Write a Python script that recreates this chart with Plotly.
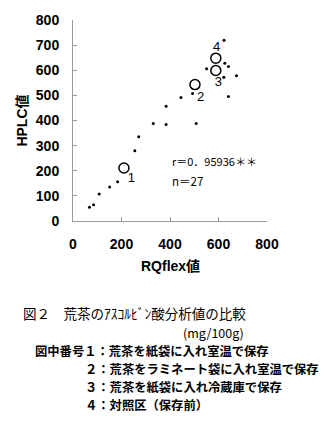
import plotly.graph_objects as go

# data
dot_x = [68, 85, 108, 151, 184, 255, 271, 331, 384, 384, 445, 493, 508, 551, 623, 626, 641, 622, 674, 641]
dot_y = [55, 65, 107, 135, 156, 280, 335, 388, 384, 457, 492, 507, 388, 606, 719, 628, 615, 572, 578, 496]
circ_x = [210, 503, 589, 589]
circ_y = [211, 543, 599, 648]
circ_labels = ["1", "2", "3", "4"]
label_x = [241, 526, 599, 592]
label_y = [169, 491, 550, 690]
x_ticks = [0, 200, 400, 600, 800]
y_ticks = [0, 100, 200, 300, 400, 500, 600, 700, 800]

W, H = 334, 431
L, R, T, B = 72.7, 267.3, 16, 220.7

def px(x):
    return (x - L) / (R - L)

def py(y):
    return (B - y) / (B - T)

fig = go.Figure()
fig.add_trace(go.Scatter(x=dot_x, y=dot_y, mode="markers",
                         marker=dict(size=3, color="black"), showlegend=False))
fig.add_trace(go.Scatter(x=circ_x, y=circ_y, mode="markers",
                         marker=dict(size=10, color="black", symbol="circle-open",
                                     line=dict(color="black", width=1.5)), showlegend=False))
fig.add_trace(go.Scatter(x=label_x, y=label_y, mode="text", text=circ_labels,
                         textfont=dict(family="Liberation Sans", size=13, color="black"),
                         showlegend=False))

axis_common = dict(range=[0, 800], showgrid=False, zeroline=False, showline=True,
                   linecolor="#999999", linewidth=1, ticks="inside", ticklen=4,
                   tickcolor="#999999",
                   tickfont=dict(family="Liberation Sans", size=14, color="black", weight="bold"))

fig.update_xaxes(**axis_common, tickvals=x_ticks, ticklabelstandoff=10)
fig.update_yaxes(**axis_common, tickvals=y_ticks, ticklabelstandoff=10)

ann = []
def add(text, x, y, size, family="Noto Sans CJK JP", xanchor="left", bold=False):
    ann.append(dict(text=("<b>%s</b>" % text) if bold else text, x=px(x), y=py(y),
                    xref="paper", yref="paper", xanchor=xanchor, yanchor="middle",
                    showarrow=False, font=dict(family=family, size=size, color="black")))

add("RQflex値", 170, 267, 14, family="Liberation Sans, Noto Sans CJK JP", xanchor="center", bold=True)
ann.append(dict(text="<b>HPLC値</b>", x=px(22), y=py(118), xref="paper", yref="paper",
                textangle=-90, showarrow=False, xanchor="center", yanchor="middle",
                font=dict(family="Liberation Sans, Noto Sans CJK JP", size=14, color="black")))
add("r＝0．95936＊＊", 170, 160, 11)
add("n＝27", 170, 180, 11.5)

add("図２　荒茶のｱｽｺﾙﾋﾞﾝ酸分析値の比較", 21, 314, 13.5)
add("(mg/100g)", 246, 334, 12.5, xanchor="right")
add("図中番号１：荒茶を紙袋に入れ室温で保存", 33, 353, 12.3, bold=True)
add("２：荒茶をラミネート袋に入れ室温で保存", 83, 371, 12.3, bold=True)
add("３：荒茶を紙袋に入れ冷蔵庫で保存", 83, 390, 12.3, bold=True)
add("４：対照区（保存前）", 83, 408, 12.3, bold=True)

fig.update_layout(width=W, height=H, margin=dict(l=L, r=W - R, t=T, b=H - B),
                  plot_bgcolor="white", paper_bgcolor="white", annotations=ann,
                  font=dict(family="Noto Sans CJK JP"))
fig.write_html("out.html")
